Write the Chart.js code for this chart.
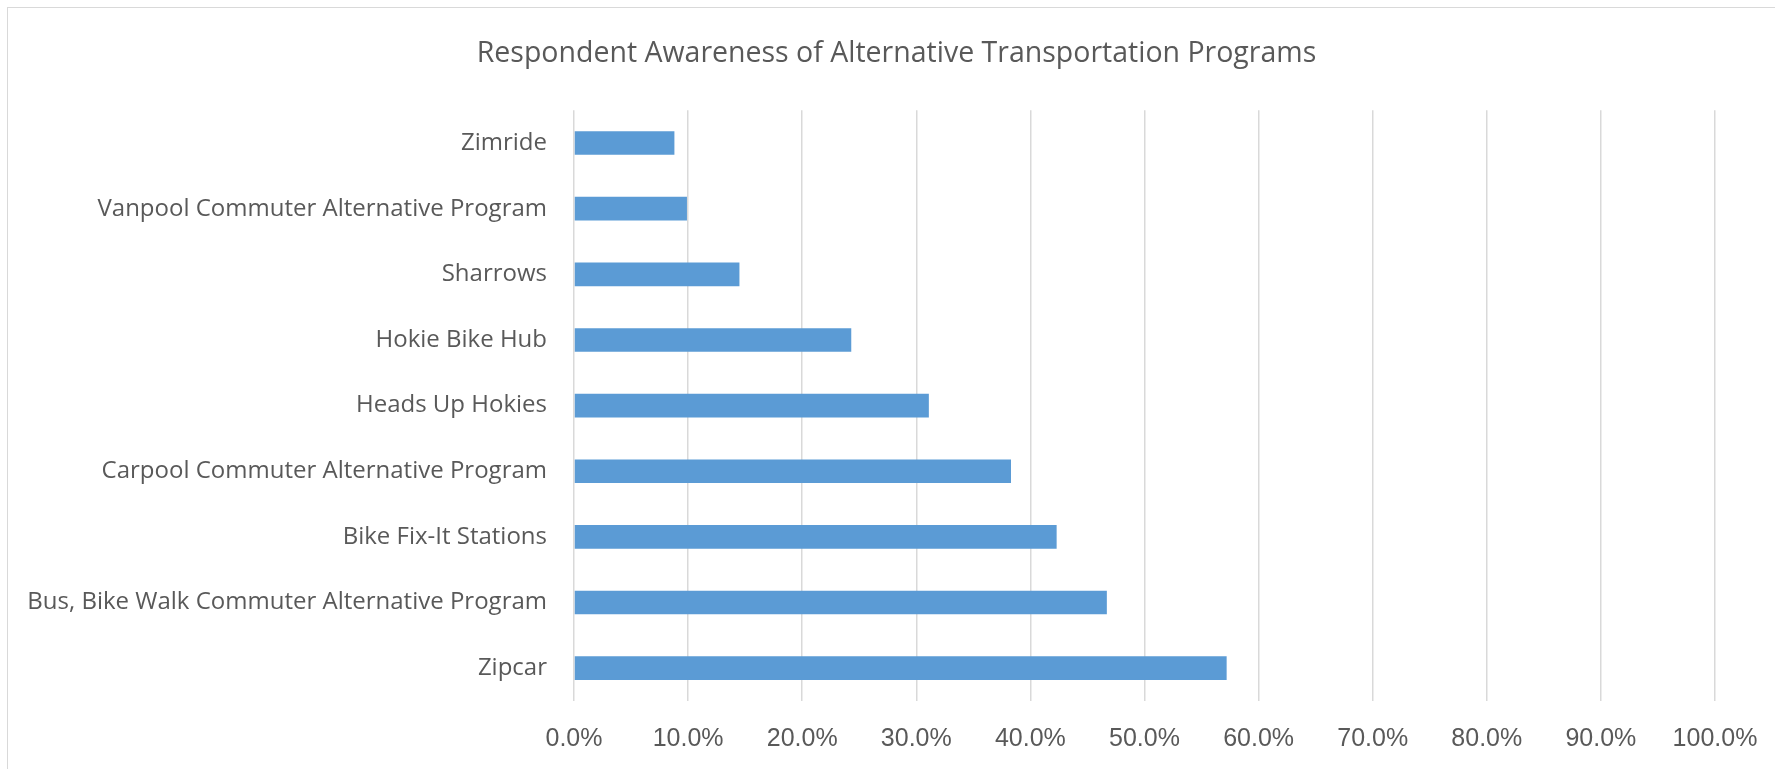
<!DOCTYPE html>
<html>
<head>
<meta charset="utf-8">
<script src="https://cdn.jsdelivr.net/npm/chart.js@4"></script>
<style>
    html, body { margin: 0; padding: 0; background: #fff; overflow: hidden; }
    #frame { position: absolute; left: 7px; top: 7px; width: 2000px; height: 1000px; border: 1.5px solid #d9d9d9; }
    #wrap { position: absolute; left: 0; top: 0; width: 1775px; height: 769px; }
    #awarenessChart { width: 1775px; height: 769px; }
</style>
</head>
<body>
<div id="frame"></div>
<div id="wrap"><canvas id="awarenessChart" width="1775" height="769"></canvas></div>
<script>
// programs, top to bottom as shown
const programs = [
    'Zimride',
    'Vanpool Commuter Alternative Program',
    'Sharrows',
    'Hokie Bike Hub',
    'Heads Up Hokies',
    'Carpool Commuter Alternative Program',
    'Bike Fix-It Stations',
    'Bus, Bike Walk Commuter Alternative Program',
    'Zipcar'
];
// share of respondents aware of each program (%)
const awareness = [8.8, 9.9, 14.5, 24.3, 31.1, 38.3, 42.3, 46.7, 57.2];
const axisMin = 0;
const axisMax = 100;
const axisStep = 10;

const textGray = '#595959';
const gridGray = '#d9d9d9';

var awarenessChart = new Chart(document.getElementById('awarenessChart'), {
    type: 'bar',
    data: {
        labels: programs,
        datasets: [{
            label: 'Awareness',
            data: awareness,
            backgroundColor: '#5b9bd5',
            borderWidth: 0,
            barPercentage: 0.36,
            categoryPercentage: 1
        }]
    },
    options: {
        indexAxis: 'y',
        responsive: false,
        animation: false,
        devicePixelRatio: 1,
        layout: { padding: { left: 18, right: 0, top: 0, bottom: 0 } },
        plugins: {
            legend: { display: false },
            tooltip: { enabled: false },
            title: {
                display: true,
                text: 'Respondent Awareness of Alternative Transportation Programs',
                color: textGray,
                font: { family: 'Open Sans', size: 28.5, weight: 'normal', lineHeight: 1.2 },
                padding: { top: 37, bottom: 39 }
            }
        },
        scales: {
            x: {
                min: axisMin,
                max: axisMax,
                ticks: {
                    stepSize: axisStep,
                    color: textGray,
                    padding: 23,
                    font: { family: 'Liberation Sans', size: 25 },
                    callback: function(v) { return v.toFixed(1) + '%'; }
                },
                grid: { color: gridGray, lineWidth: 1.5, drawTicks: false },
                border: { display: false },
                afterFit: function(scale) {
                    scale.height = 68;
                    scale.paddingRight = 60;
                }
            },
            y: {
                ticks: {
                    color: textGray,
                    padding: 27,
                    font: { family: 'Open Sans', size: 24 }
                },
                grid: { display: false, drawTicks: false },
                border: { display: false },
                afterFit: function(scale) {
                    scale.width = 556;
                }
            }
        }
    }
});
</script>
</body>
</html>
